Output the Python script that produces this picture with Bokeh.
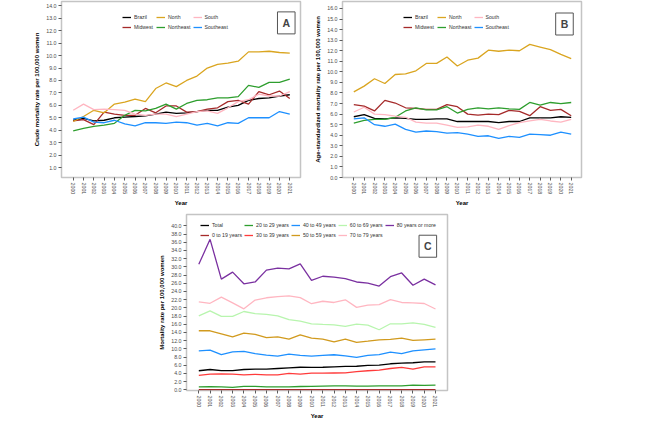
from bokeh.plotting import figure
from bokeh.layouts import column, row
from bokeh.models import Legend, LegendItem, Label, Range1d, PrintfTickFormatter, Spacer
from bokeh.embed import file_html
from bokeh.resources import INLINE

FONT = "Liberation Sans"

years = list(range(2000, 2022))

# ---------------- Panel A: crude mortality rate (regions) ----------------
a_brazil = [4.8, 4.95, 4.75, 4.8, 5.0, 5.05, 5.1, 5.15, 5.3, 5.45, 5.35, 5.4, 5.5, 5.6, 5.6, 5.85, 6.0, 6.4, 6.55, 6.6, 6.75, 6.85]
a_midwest = [4.75, 4.85, 4.45, 5.45, 5.3, 5.2, 5.2, 5.75, 5.4, 5.95, 5.95, 5.45, 5.5, 5.7, 5.8, 6.3, 6.4, 6.1, 7.1, 6.85, 7.15, 6.55]
a_north = [4.7, 5.1, 5.6, 5.4, 6.1, 6.25, 6.5, 6.3, 7.35, 7.8, 7.5, 8.0, 8.35, 9.0, 9.3, 9.4, 9.55, 10.3, 10.3, 10.35, 10.25, 10.2]
a_northeast = [3.95, 4.15, 4.3, 4.4, 4.55, 5.2, 5.6, 5.55, 5.75, 6.1, 5.7, 6.15, 6.4, 6.45, 6.6, 6.6, 6.7, 7.6, 7.45, 7.85, 7.85, 8.1]
a_south = [5.6, 6.1, 5.65, 5.7, 5.65, 5.6, 5.3, 5.2, 5.3, 5.3, 5.1, 5.3, 5.5, 5.55, 5.35, 5.8, 6.3, 6.45, 6.9, 6.75, 6.75, 7.1]
a_southeast = [4.9, 5.05, 4.65, 4.6, 4.8, 4.5, 4.35, 4.6, 4.6, 4.55, 4.65, 4.6, 4.4, 4.55, 4.35, 4.6, 4.55, 5.0, 5.0, 5.0, 5.5, 5.3]

# ---------------- Panel B: age-standardized rate (regions) ----------------
b_brazil = [5.75, 5.95, 5.6, 5.55, 5.65, 5.6, 5.5, 5.5, 5.55, 5.55, 5.3, 5.3, 5.3, 5.3, 5.2, 5.3, 5.3, 5.65, 5.65, 5.65, 5.75, 5.7]
b_midwest = [6.9, 6.75, 6.3, 7.3, 7.05, 6.6, 6.55, 6.45, 6.45, 6.9, 6.7, 6.0, 5.9, 6.0, 5.95, 6.35, 6.25, 5.85, 6.7, 6.35, 6.45, 5.85]
b_north = [8.1, 8.65, 9.35, 8.9, 9.75, 9.8, 10.1, 10.8, 10.8, 11.4, 10.55, 11.1, 11.3, 12.05, 11.95, 12.05, 12.0, 12.6, 12.35, 12.1, 11.65, 11.25]
b_northeast = [5.15, 5.4, 5.5, 5.5, 5.7, 6.3, 6.6, 6.4, 6.4, 6.7, 6.1, 6.45, 6.6, 6.5, 6.6, 6.5, 6.45, 7.1, 6.85, 7.1, 7.0, 7.1]
b_south = [6.2, 6.65, 6.0, 5.95, 5.8, 5.7, 5.25, 5.15, 5.15, 4.95, 4.75, 4.8, 4.95, 4.85, 4.55, 4.9, 5.2, 5.35, 5.5, 5.35, 5.25, 5.5]
b_southeast = [5.55, 5.65, 5.0, 4.85, 5.05, 4.55, 4.3, 4.4, 4.35, 4.2, 4.25, 4.1, 3.9, 3.95, 3.7, 3.9, 3.8, 4.1, 4.05, 4.0, 4.3, 4.1]

region_names = ["Brazil", "Midwest", "North", "Northeast", "South", "Southeast"]
region_colors = ["#000000", "#A52A2A", "#DAA520", "#2E9E2E", "#FFB6C1", "#1E90FF"]

# ---------------- Panel C: mortality rate by age group ----------------
c_total = [4.65, 4.95, 4.7, 4.7, 4.95, 5.05, 5.05, 5.2, 5.35, 5.5, 5.45, 5.5, 5.6, 5.7, 5.75, 5.95, 6.0, 6.35, 6.5, 6.6, 6.8, 6.8]
c_0_19 = [0.05, 0.05, 0.05, 0.05, 0.05, 0.05, 0.05, 0.05, 0.05, 0.05, 0.05, 0.05, 0.05, 0.05, 0.05, 0.05, 0.05, 0.05, 0.05, 0.05, 0.05, 0.05]
c_20_29 = [0.7, 0.75, 0.7, 0.6, 0.85, 0.85, 0.7, 0.7, 0.7, 0.8, 0.85, 0.9, 0.95, 0.95, 0.9, 0.9, 0.95, 0.95, 0.95, 1.15, 1.1, 1.15]
c_30_39 = [3.5, 3.8, 3.9, 3.8, 3.65, 3.75, 3.65, 3.65, 4.0, 3.8, 4.05, 4.05, 4.1, 4.15, 4.45, 4.65, 4.8, 5.2, 5.45, 5.05, 5.6, 5.6]
c_40_49 = [9.5, 9.7, 8.6, 9.25, 9.35, 8.8, 8.45, 8.2, 8.7, 8.4, 8.2, 8.4, 8.55, 8.3, 7.9, 8.4, 8.6, 9.2, 8.85, 9.5, 9.75, 10.0]
c_50_59 = [14.4, 14.4, 13.65, 12.9, 13.8, 13.5, 12.75, 12.9, 12.35, 13.4, 12.6, 12.35, 11.7, 12.35, 11.55, 11.85, 12.2, 12.3, 12.6, 12.05, 12.2, 12.35]
c_60_69 = [18.05, 19.25, 17.9, 17.9, 19.1, 18.6, 18.4, 18.05, 17.1, 16.75, 16.1, 15.95, 15.85, 15.45, 16.0, 15.8, 14.65, 16.1, 16.1, 16.35, 15.95, 15.2]
c_70_79 = [21.45, 21.1, 22.6, 21.2, 19.75, 21.9, 22.45, 22.75, 22.9, 22.5, 21.0, 21.6, 21.3, 21.95, 20.1, 20.65, 20.8, 22.0, 21.3, 21.2, 21.05, 19.7]
c_80_plus = [30.6, 36.7, 27.0, 28.7, 25.85, 26.3, 29.2, 29.7, 29.5, 30.7, 26.7, 27.7, 27.5, 27.1, 26.3, 26.0, 25.3, 27.6, 28.5, 25.5, 27.0, 25.6]

age_names = ["Total", "0 to 19 years", "20 to 29 years", "30 to 39 years", "40 to 49 years",
             "50 to 59 years", "60 to 69 years", "70 to 79 years", "80 years or more"]
age_colors = ["#000000", "#A52A2A", "#2E9E2E", "#FF3B3B", "#1E90FF",
              "#D19A1E", "#B8F5AE", "#FFB6C1", "#7A30A0"]

a_ticks = list(range(1, 15))
b_ticks = list(range(0, 17))
c_ticks = list(range(0, 41, 2))


def panel(frame_w, frame_h, xr, yr, yticks, ytitle, mbl, mbr, mbt, mbb):
    p = figure(frame_width=frame_w, frame_height=frame_h,
               x_range=Range1d(*xr), y_range=Range1d(*yr),
               output_backend="svg", toolbar_location=None,
               min_border_left=mbl, min_border_right=mbr,
               min_border_top=mbt, min_border_bottom=mbb)
    p.xgrid.visible = False
    p.ygrid.visible = False
    p.outline_line_color = "#c4c4c4"
    p.outline_line_width = 1.5
    p.background_fill_color = "white"
    for ax in (p.xaxis[0], p.yaxis[0]):
        ax.axis_line_color = None
        ax.major_tick_in = 0
        ax.major_tick_out = 3
        ax.major_tick_line_color = "#333333"
        ax.major_tick_line_width = 0.8
        ax.minor_tick_line_color = None
        ax.major_label_text_font = FONT
        ax.major_label_text_font_size = "5.3px"
        ax.major_label_text_color = "#4d4d4d"
        ax.major_label_standoff = 2
        ax.axis_label_text_font = FONT
        ax.axis_label_text_font_size = "6px"
        ax.axis_label_text_font_style = "bold"
        ax.axis_label_text_color = "#000000"
        ax.axis_label_standoff = 3
    p.xaxis.ticker = years
    p.xaxis.major_label_orientation = "vertical"
    p.xaxis.axis_label = "Year"
    p.yaxis.ticker = yticks
    p.yaxis.formatter = PrintfTickFormatter(format="%.1f")
    p.yaxis.axis_label = ytitle
    return p


def add_lines(p, series, names, colors, order, ncols, loc):
    rends = {}
    for s, n, c in zip(series, names, colors):
        rends[n] = p.line(years, s, line_color=c, line_width=1.3)
    items = [LegendItem(label=n, renderers=[rends[n]]) for n in order]
    leg = Legend(items=items, location=loc, orientation="horizontal", ncols=ncols,
                 glyph_width=9, glyph_height=8, label_height=8, label_standoff=3,
                 spacing=2, padding=2, margin=0,
                 label_text_font=FONT, label_text_font_size="5.2px",
                 label_text_color="#333333",
                 border_line_color=None, background_fill_alpha=0)
    p.add_layout(leg)


def add_tag(p, x, y, txt):
    p.add_layout(Label(x=x, y=y, text=txt, text_font=FONT, text_font_style="bold",
                       text_font_size="10.5px", text_align="center", text_baseline="middle",
                       border_line_color="#555555", border_line_width=1,
                       background_fill_color="white", padding=5))


region_order = ["Brazil", "North", "South", "Midwest", "Northeast", "Southeast"]

pA = panel(239, 176, (1998.866, 2022.04), (0.196, 14.35), a_ticks,
           "Crude mortality rate per 100,000 women", 61, 12, 1, 28)
add_lines(pA, [a_brazil, a_midwest, a_north, a_northeast, a_south, a_southeast],
          region_names, region_colors, region_order, 3, (61, 146))
add_tag(pA, 2020.66, 12.63, "A")

pB = panel(239, 176, (1998.908, 2021.995), (0.0, 16.66), b_ticks,
           "Age-standardized mortality rate per 100,000 women", 30, 10, 1, 28)
add_lines(pB, [b_brazil, b_midwest, b_north, b_northeast, b_south, b_southeast],
          region_names, region_colors, region_order, 3, (61, 146))
add_tag(pB, 2020.35, 14.53, "B")

age_order = ["Total", "20 to 29 years", "40 to 49 years", "60 to 69 years", "80 years or more",
             "0 to 19 years", "30 to 39 years", "50 to 59 years", "70 to 79 years"]
pC = panel(261, 176, (1998.909, 2022.065), (-0.17, 42.76), c_ticks,
           "Mortality rate per 100,000 women", 35, 10, 5, 30)
add_lines(pC, [c_total, c_0_19, c_20_29, c_30_39, c_40_49, c_50_59, c_60_69, c_70_79, c_80_plus],
          age_names, age_colors, age_order, 5, (14, 151))
add_tag(pC, 2020.32, 35.02, "C")

layout = column(row(pA, pB), row(Spacer(width=151, height=10), pC))

open("out.html", "w").write(file_html(layout, INLINE))
